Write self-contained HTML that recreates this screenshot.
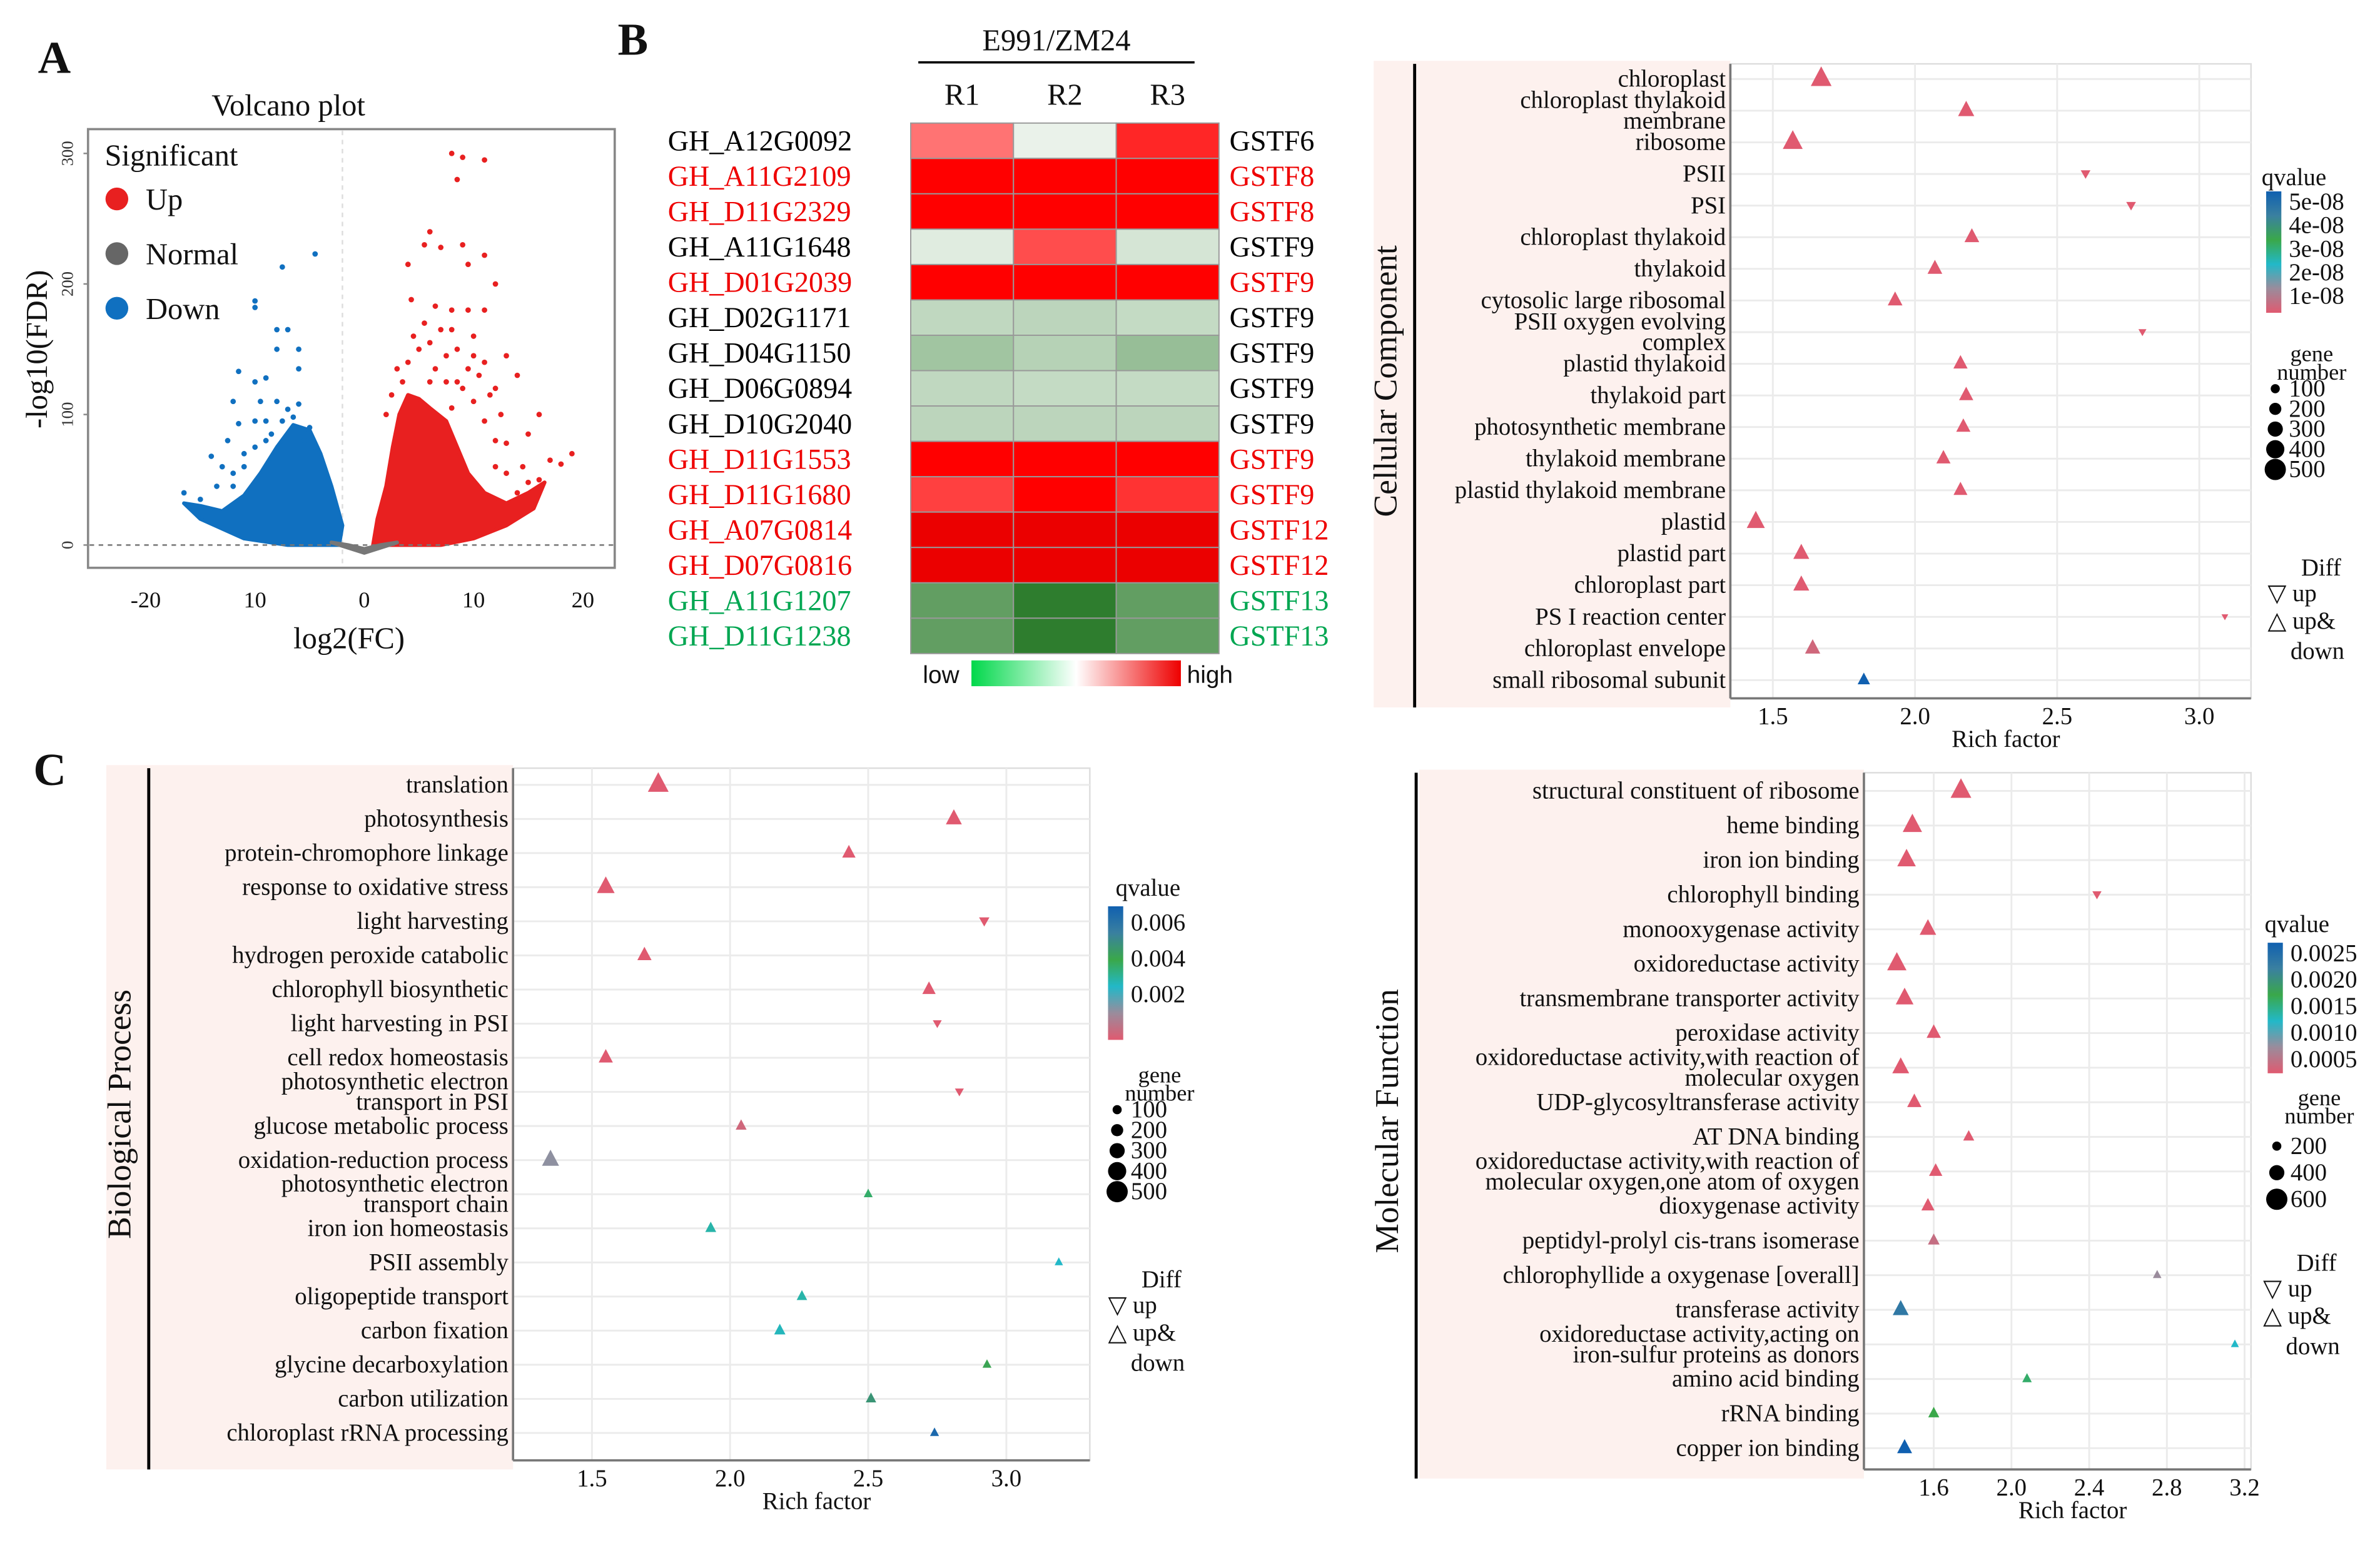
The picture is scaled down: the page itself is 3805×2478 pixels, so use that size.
<!DOCTYPE html>
<html><head><meta charset="utf-8"><style>
html,body{margin:0;padding:0;background:#fff;}
svg{display:block;font-family:"Liberation Serif",serif;}
</style></head><body>
<svg id="fig" width="3805" height="2478" viewBox="0 0 1568 1021" xmlns="http://www.w3.org/2000/svg">
<rect x="0" y="0" width="1568" height="1021" fill="#fff"/>
<g id="root"></g>
</svg>
<script>
// ---------- DATA ----------
const volcanoXTicks = [-20, -10, 0, 10, 20];
const volcanoXTickLabels = ["-20", "10", "0", "10", "20"];
const volcanoYTicks = [0, 100, 200, 300];
const upPoints = [[8,300],[9,297],[11,295],[8.5,280],[6,240],[5.5,230],[7,228],[9,230],[11,222],[4,215],[9.5,215],[12,200],[4.3,188],[6.5,183],[8,180],[9.5,180],[11,180],[5.5,170],[7,165],[10,160],[13,145],[14,130],[3,135],[7.5,145],[8.5,150],[16,100],[15,85],[19,70],[18,62],[17,65],[14.5,60],[12,80],[10,110],[11,95],[13,78],[9,120],[6,125],[8,105],[12.5,100],[4,140],[5,150],[3.5,125],[6.5,135],[7.5,125],[9.5,135],[10.5,130],[11.5,115],[8.5,125],[12,60],[13,55],[14,40],[15,48],[16,50],[2.5,115],[2,100],[4.5,160],[6,155],[8,165],[10,145],[11,140],[12,120]];
const downPoints = [[-4.5,223],[-7.5,213],[-10,187],[-10,182],[-8,165],[-7,165],[-8,150],[-6,150],[-11.5,133],[-10,125],[-9,128],[-6,135],[-12,110],[-11.5,93],[-16.5,40],[-14,68],[-9,95],[-5,90],[-7,104],[-6,108],[-10,95],[-12.5,80],[-8.5,85],[-13,60],[-12,55],[-11,70],[-10,75],[-9,80],[-7.5,95],[-6.5,98],[-5.5,80],[-4.5,75],[-8,110],[-9.5,110],[-15,35],[-13.5,45],[-12,45],[-11,60]];
const upCloud = [[0.8,0],[1.2,20],[2,45],[2.6,75],[3.2,100],[4,115],[5,112],[6,105],[7.5,95],[8.5,75],[9.5,55],[11,40],[13,32],[15,40],[16.5,48],[15.5,28],[13,15],[10,5],[7,0]];
const downCloud = [[-16.5,32],[-15,30],[-13,26],[-11,38],[-9.5,55],[-8,75],[-6.5,92],[-5,88],[-4,70],[-3,45],[-2,15],[-2.3,0],[-7,0],[-11,5],[-15,20]];
const normalCloud = [[-3,2],[-1.5,0],[0,-3],[1.5,0],[3,2],[0,-6]];

const heatRowsLeft = ["GH_A12G0092","GH_A11G2109","GH_D11G2329","GH_A11G1648","GH_D01G2039","GH_D02G1171","GH_D04G1150","GH_D06G0894","GH_D10G2040","GH_D11G1553","GH_D11G1680","GH_A07G0814","GH_D07G0816","GH_A11G1207","GH_D11G1238"];
const heatRowsRight = ["GSTF6","GSTF8","GSTF8","GSTF9","GSTF9","GSTF9","GSTF9","GSTF9","GSTF9","GSTF9","GSTF9","GSTF12","GSTF12","GSTF13","GSTF13"];
const heatRowColor = ["#000","#e00","#e00","#000","#e00","#000","#000","#000","#000","#e00","#e00","#e00","#e00","#00a651","#00a651"];
const heatCols = ["R1","R2","R3"];
const heatR1 = [0.55,1,1,-0.15,1,-0.3,-0.45,-0.3,-0.32,1,0.75,1.15,1.15,-0.75,-0.75];
const heatR2 = [-0.1,1,1,0.7,1,-0.32,-0.35,-0.28,-0.32,1,1,1.15,1.15,-1,-1];
const heatR3 = [0.85,1,1,-0.2,1,-0.28,-0.5,-0.28,-0.32,1,0.8,1.15,1.15,-0.75,-0.75];

const ccTerms = ["chloroplast","chloroplast thylakoid|membrane","ribosome","PSII","PSI","chloroplast thylakoid","thylakoid","cytosolic large ribosomal","PSII oxygen evolving|complex","plastid thylakoid","thylakoid part","photosynthetic membrane","thylakoid membrane","plastid thylakoid membrane","plastid","plastid part","chloroplast part","PS I reaction center","chloroplast envelope","small ribosomal subunit"];
const ccRich = [1.67,2.18,1.57,2.6,2.76,2.2,2.07,1.93,2.8,2.16,2.18,2.17,2.1,2.16,1.44,1.6,1.6,3.09,1.64,1.82];
const ccGenes = [500,260,450,80,80,200,200,200,40,180,180,180,180,170,350,250,250,20,220,120];
const ccDown = [0,0,0,1,1,0,0,0,1,0,0,0,0,0,0,0,0,1,0,0];
const ccQ = [0,0,0,0,0,0,0,0,0,0,0,0,0,0,0,0,0,0,0.05,1];
const ccXTicks = [1.5,2.0,2.5,3.0];
const ccQTicks = ["5e-08","4e-08","3e-08","2e-08","1e-08"];
const ccSizeTicks = ["100","200","300","400","500"];

const bpTerms = ["translation","photosynthesis","protein-chromophore linkage","response to oxidative stress","light harvesting","hydrogen peroxide catabolic","chlorophyll biosynthetic","light harvesting in PSI","cell redox homeostasis","photosynthetic electron|transport in  PSI","glucose metabolic process","oxidation-reduction process","photosynthetic electron|transport chain","iron ion homeostasis","PSII assembly","oligopeptide transport","carbon fixation","glycine decarboxylation","carbon utilization","chloroplast rRNA processing"];
const bpRich = [1.74,2.81,2.43,1.55,2.92,1.69,2.72,2.75,1.55,2.83,2.04,1.35,2.5,1.93,3.19,2.26,2.18,2.93,2.51,2.74];
const bpGenes = [500,250,150,330,100,180,150,60,180,60,80,300,40,80,30,70,90,40,70,40];
const bpDown = [0,0,0,0,1,0,0,1,0,1,0,0,0,0,0,0,0,0,0,0];
const bpQ = [0,0,0,0,0,0,0,0,0,0,0.05,0.22,0.55,0.45,0.4,0.45,0.42,0.62,0.7,0.95];
const bpXTicks = [1.5,2.0,2.5,3.0];
const bpQTicks = ["0.006","0.004","0.002"];
const bpSizeTicks = ["100","200","300","400","500"];

const mfTerms = ["structural constituent of ribosome","heme binding","iron ion binding","chlorophyll binding","monooxygenase activity","oxidoreductase activity","transmembrane transporter activity","peroxidase activity","oxidoreductase activity,with reaction of|molecular oxygen","UDP-glycosyltransferase activity","AT DNA binding","oxidoreductase activity,with reaction of|molecular oxygen,one atom of oxygen","dioxygenase activity","peptidyl-prolyl cis-trans isomerase","chlorophyllide a oxygenase [overall]","transferase activity","oxidoreductase activity,acting on|iron-sulfur proteins as donors","amino acid binding","rRNA binding","copper ion binding"];
const mfRich = [1.74,1.49,1.46,2.44,1.57,1.41,1.45,1.6,1.43,1.5,1.78,1.61,1.57,1.6,2.75,1.43,3.15,2.08,1.6,1.45];
const mfGenes = [600,500,450,80,330,500,400,220,350,220,100,180,170,120,40,300,30,60,100,250];
const mfDown = [0,0,0,1,0,0,0,0,0,0,0,0,0,0,0,0,0,0,0,0];
const mfQ = [0,0,0,0,0,0,0,0,0,0,0,0,0,0.08,0.2,0.85,0.4,0.55,0.6,1];
const mfXTicks = [1.6,2.0,2.4,2.8,3.2];
const mfQTicks = ["0.0025","0.0020","0.0015","0.0010","0.0005"];
const mfSizeTicks = ["200","400","600"];

// ---------- HELPERS ----------
const NS = "http://www.w3.org/2000/svg";
const root = document.getElementById("root");
function el(tag, attrs, parent, txt){
  const e = document.createElementNS(NS, tag);
  for (const k in attrs) e.setAttribute(k, attrs[k]);
  if (txt !== undefined) e.textContent = txt;
  (parent || root).appendChild(e);
  return e;
}
function grp(name, parent){
  const g = el("g", {}, parent);
  
  
  return g;
}
function txt(parent, x, y, s, size, opts){
  opts = opts || {};
  const t = el("text", {x:x, y:y, "font-size":size, fill:opts.fill||"#111", "text-anchor":opts.anchor||"start"}, parent, s);
  if (opts.weight) t.setAttribute("font-weight", opts.weight);
  if (opts.family) t.setAttribute("font-family", opts.family);
  if (opts.rotate) t.setAttribute("transform", "rotate(" + opts.rotate + " " + x + " " + y + ")");
  
  
  return t;
}
function lerpHex(a, b, t){
  const pa=[1,3,5].map(i=>parseInt(a.substr(i,2),16)), pb=[1,3,5].map(i=>parseInt(b.substr(i,2),16));
  return "rgb(" + pa.map((v,i)=>Math.round(v+(pb[i]-v)*t)).join(",") + ")";
}
const qStops = [[0,"#e05a70"],[0.2,"#9a8c9c"],[0.4,"#22b8c8"],[0.6,"#3aa84a"],[0.8,"#3a80a0"],[1,"#1060b0"]];
function qColor(q){
  for (let i=1;i<qStops.length;i++){
    if (q<=qStops[i][0]){ const a=qStops[i-1], b=qStops[i]; return lerpHex(a[1], b[1], (q-a[0])/(b[0]-a[0])); }
  }
  return qStops[qStops.length-1][1];
}

txt(root, 25, 48, "A", 30, {weight:"bold", name:"panel-label-a"});
txt(root, 407, 36, "B", 30, {weight:"bold", name:"panel-label-b"});
txt(root, 22, 517, "C", 30, {weight:"bold", name:"panel-label-c"});

// ---------- VOLCANO ----------
(function(){
  const g = grp("volcano-plot");
  const vx = v => 240 + v*7.2;
  const vy = v => 359 - v*0.86;
  txt(g, 190, 76, "Volcano plot", 20, {anchor:"middle", name:"volcano-title"});
  const frame = el("rect", {x:58, y:85, width:347, height:289, fill:"#fff", stroke:"#888", "stroke-width":1.5}, g);
  
  
  el("line", {x1:vx(-2), y1:86, x2:vx(-2), y2:373, stroke:"#ddd", "stroke-dasharray":"3,3"}, g);
  const clouds = [[downCloud,"#1070c0","down-cloud"],[upCloud,"#e82020","up-cloud"],[normalCloud,"#777","normal-cloud"]];
  clouds.forEach(c=>{
    const p = el("polygon", {points:c[0].map(d=>vx(d[0])+","+vy(d[1])).join(" "), fill:c[1], stroke:c[1], "stroke-width":2.5, "stroke-linejoin":"round"}, g);
    
    
  });
  const hl = el("line", {x1:59, y1:vy(0), x2:404, y2:vy(0), stroke:"#777", "stroke-dasharray":"3,3", "stroke-width":1}, g);
  
  
  upPoints.forEach(d=>{
    const c = el("circle", {cx:vx(d[0]), cy:vy(d[1]), r:1.8, fill:"#e82020"}, g);
    
    
  });
  downPoints.forEach(d=>{
    const c = el("circle", {cx:vx(d[0]), cy:vy(d[1]), r:1.8, fill:"#1070c0"}, g);
    
    
  });
  volcanoXTicks.forEach((v,i)=>{
    txt(g, vx(v), 400, volcanoXTickLabels[i], 15, {anchor:"middle", name:"x-tick-label"});
  });
  volcanoYTicks.forEach(v=>{
    txt(g, 48, vy(v), String(v), 11, {anchor:"middle", rotate:-90, fill:"#333", name:"y-tick-label"});
    el("line", {x1:55, y1:vy(v), x2:58, y2:vy(v), stroke:"#888"}, g);
  });
  txt(g, 230, 427, "log2(FC)", 20, {anchor:"middle", name:"x-axis-title"});
  txt(g, 31, 230, "-log10(FDR)", 20, {anchor:"middle", rotate:-90, name:"y-axis-title"});
  const lg = grp("volcano-legend", g);
  txt(lg, 69, 109, "Significant", 20, {name:"legend-title"});
  [["Up","#e82020",131],["Normal","#666",167],["Down","#1070c0",203]].forEach(d=>{
    const c = el("circle", {cx:77, cy:d[2], r:7.5, fill:d[1]}, lg);
    
    
    txt(lg, 96, d[2]+7, d[0], 20, {name:"legend-entry"});
  });
})();

// ---------- HEATMAP ----------
(function(){
  const g = grp("heatmap");
  const x0 = 600, cw = 67.7, y0 = 81, rh = 23.3;
  txt(g, 696, 33, "E991/ZM24", 20, {anchor:"middle", name:"heatmap-group-title"});
  el("line", {x1:605, y1:41, x2:787, y2:41, stroke:"#000", "stroke-width":1.5}, g);
  heatCols.forEach((c,i)=>txt(g, x0+cw*(i+0.5), 69, c, 20, {anchor:"middle", name:"column-label"}));
  const cols = [heatR1, heatR2, heatR3];
  function hc(v){
    if (v>=0){ if (v<=1) return lerpHex("#ffffff","#ff0000",v); return lerpHex("#ff0000","#b00000",(v-1)/0.6); }
    return lerpHex("#ffffff","#2e7d2e",-v);
  }
  heatRowsLeft.forEach((name,r)=>{
    cols.forEach((arr,ci)=>{
      const rc = el("rect", {x:x0+cw*ci, y:y0+rh*r, width:cw, height:rh, fill:hc(arr[r]), stroke:"#999", "stroke-width":0.8}, g);
      
      
    });
    txt(g, 440, y0+rh*r+18, name, 19, {fill:heatRowColor[r], name:"gene-id-label"});
    txt(g, 810, y0+rh*r+18, heatRowsRight[r], 19, {fill:heatRowColor[r], name:"gene-family-label"});
  });
  const defs = el("defs", {}, g);
  const lgd = el("linearGradient", {id:"hmgrad", x1:"0", x2:"1", y1:"0", y2:"0"}, defs);
  el("stop", {offset:"0", "stop-color":"#00d84a"}, lgd);
  el("stop", {offset:"0.5", "stop-color":"#ffffff"}, lgd);
  el("stop", {offset:"1", "stop-color":"#ee0000"}, lgd);
  const cb = el("rect", {x:640, y:435, width:138, height:17, fill:"url(#hmgrad)"}, g);
  
  
  txt(g, 608, 450, "low", 16, {family:"Liberation Sans", name:"scale-low-label"});
  txt(g, 782, 450, "high", 16, {family:"Liberation Sans", name:"scale-high-label"});
})();

// ---------- DOT PLOT FACTORY ----------
function dotPanel(cfg){
  const g = grp(cfg.name);
  const bg = el("rect", {x:cfg.bgX, y:cfg.top-2, width:cfg.px0-cfg.bgX, height:cfg.bottom-cfg.top+8, fill:"#fdf1ee"}, g);
  
  
  el("line", {x1:cfg.lineX, y1:cfg.top, x2:cfg.lineX, y2:cfg.bottom+6, stroke:"#000", "stroke-width":2}, g);
  txt(g, cfg.lineX-12, (cfg.top+cfg.bottom)/2, cfg.title, 22, {anchor:"middle", rotate:-90, name:"category-title"});
  const xs = v => cfg.tx0 + (v-cfg.tv0)*cfg.tpu;
  const n = cfg.terms.length;
  const ys = i => cfg.y0 + i*(cfg.y1-cfg.y0)/(n-1);
  const plot = el("rect", {x:cfg.px0, y:cfg.top, width:cfg.px1-cfg.px0, height:cfg.bottom-cfg.top, fill:"#fff", stroke:"#ddd"}, g);
  
  
  cfg.xticks.forEach(v=>{
    el("line", {x1:xs(v), y1:cfg.top, x2:xs(v), y2:cfg.bottom, stroke:"#ebebeb", "stroke-width":1.2}, g);
    txt(g, xs(v), cfg.bottom+17, v.toFixed(1), 16, {anchor:"middle", name:"x-tick-label"});
  });
  for (let i=0;i<n;i++) el("line", {x1:cfg.px0, y1:ys(i), x2:cfg.px1, y2:ys(i), stroke:"#ebebeb", "stroke-width":1.2}, g);
  el("line", {x1:cfg.px0, y1:cfg.top, x2:cfg.px0, y2:cfg.bottom, stroke:"#777", "stroke-width":1.5}, g);
  el("line", {x1:cfg.px0, y1:cfg.bottom, x2:cfg.px1, y2:cfg.bottom, stroke:"#777", "stroke-width":1.5}, g);
  txt(g, (cfg.px0+cfg.px1)/2+10, cfg.bottom+32, "Rich factor", 16, {anchor:"middle", name:"x-axis-title"});
  cfg.terms.forEach((t,i)=>{
    const lines = t.split("|");
    const y = ys(i);
    lines.forEach((ln,k)=>{
      const yy = y + 5 + (k - (lines.length-1)/2)*13.5;
      txt(g, cfg.px0-3, yy, ln, 16, {anchor:"end", name:"term-label"});
    });
    const s = 1.6 + Math.sqrt(cfg.genes[i]/cfg.maxG)*6;
    const cx = xs(cfg.rich[i]);
    const pts = cfg.down[i]
      ? [[cx-s*0.8,y-s*0.6],[cx+s*0.8,y-s*0.6],[cx,y+s*0.8]]
      : [[cx,y-s*1.1],[cx-s*0.9,y+s*0.6],[cx+s*0.9,y+s*0.6]];
    const m = el("polygon", {points:pts.map(p=>p.join(",")).join(" "), fill:qColor(cfg.q[i])}, g);
    
    
  });
  const L = cfg.leg;
  const lg = grp("dot-legend", g);
  txt(lg, L.qx, L.qy, "qvalue", 16, {name:"qvalue-legend-title"});
  const gid = cfg.name + "-grad";
  const defs = el("defs", {}, lg);
  const lgd = el("linearGradient", {id:gid, x1:"0", x2:"0", y1:"1", y2:"0"}, defs);
  qStops.forEach(s=>el("stop", {offset:s[0], "stop-color":s[1]}, lgd));
  const bar = el("rect", {x:L.bx, y:L.by0, width:10, height:L.by1-L.by0, fill:"url(#"+gid+")"}, lg);
  
  
  cfg.qticks.forEach((t,i)=>{
    const y = L.qt0 + i*L.qtStep;
    txt(lg, L.bx+15, y+5, t, 16, {name:"qvalue-tick-label"});
  });
  txt(lg, L.gx, L.gy, "gene", 15, {anchor:"middle", name:"size-legend-title"});
  txt(lg, L.gx, L.gy+12, "number", 15, {anchor:"middle", name:"size-legend-title"});
  cfg.sizeTicks.forEach((t,i)=>{
    const y = L.s0 + i*L.sStep;
    const r = 3 + i*(L.sMax-3)/Math.max(1,cfg.sizeTicks.length-1);
    const c = el("circle", {cx:L.bx+6, cy:y, r:r, fill:"#000"}, lg);
    
    
    txt(lg, L.bx+15, y+5, t, 16, {name:"size-legend-label"});
  });
  txt(lg, L.dx+22, L.dy, "Diff", 16, {name:"diff-legend-title"});
  txt(lg, L.dx, L.dy+17, "\u25BD up", 16, {name:"diff-legend-entry"});
  txt(lg, L.dx, L.dy+35, "\u25B3 up&", 16, {name:"diff-legend-entry"});
  txt(lg, L.dx+15, L.dy+55, "down", 16, {name:"diff-legend-entry"});
}

dotPanel({name:"cellular-component-plot", title:"Cellular Component", bgX:905, lineX:932, px0:1140, px1:1483, top:42, bottom:460,
  tx0:1168, tv0:1.5, tpu:187.3, y0:52, y1:448, terms:ccTerms, rich:ccRich, genes:ccGenes, down:ccDown, q:ccQ, maxG:500,
  xticks:ccXTicks, qticks:ccQTicks, sizeTicks:ccSizeTicks,
  leg:{qx:1490, qy:122, bx:1493, by0:126, by1:206, qt0:133, qtStep:15.5, gx:1523, gy:238, s0:256, sStep:13.3, sMax:7, dx:1494, dy:379}});

dotPanel({name:"biological-process-plot", title:"Biological Process", bgX:70, lineX:98, px0:338, px1:718, top:506, bottom:962,
  tx0:390, tv0:1.5, tpu:182, y0:517, y1:944, terms:bpTerms, rich:bpRich, genes:bpGenes, down:bpDown, q:bpQ, maxG:500,
  xticks:bpXTicks, qticks:bpQTicks, sizeTicks:bpSizeTicks,
  leg:{qx:735, qy:590, bx:730, by0:597, by1:685, qt0:608, qtStep:23.5, gx:764, gy:713, s0:731, sStep:13.5, sMax:7, dx:730, dy:848}});

dotPanel({name:"molecular-function-plot", title:"Molecular Function", bgX:935, lineX:933, px0:1228, px1:1483, top:509, bottom:968,
  tx0:1274, tv0:1.6, tpu:128, y0:521, y1:954, terms:mfTerms, rich:mfRich, genes:mfGenes, down:mfDown, q:mfQ, maxG:600,
  xticks:mfXTicks, qticks:mfQTicks, sizeTicks:mfSizeTicks,
  leg:{qx:1492, qy:614, bx:1494, by0:621, by1:707, qt0:628, qtStep:17.5, gx:1528, gy:728, s0:755, sStep:17.5, sMax:7, dx:1491, dy:837}});
</script>
</body></html>
